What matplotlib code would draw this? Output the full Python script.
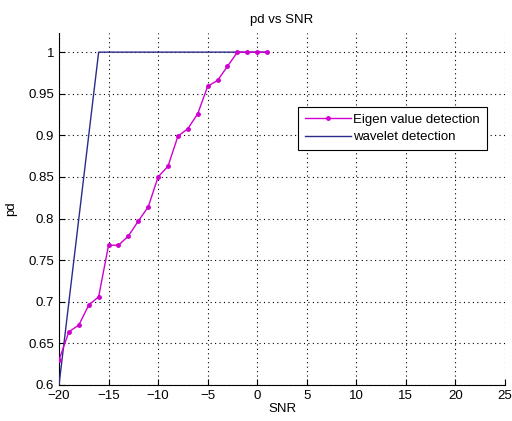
import matplotlib
matplotlib.use("Agg")
import matplotlib.pyplot as plt
import numpy as np

# SNR values (dB) shared by both curves
snr = list(range(-20, 2))

# probability of detection
pd_eigen = [0.630, 0.664, 0.672, 0.696, 0.706, 0.768, 0.768, 0.779, 0.797, 0.814,
            0.850, 0.863, 0.899, 0.908, 0.926, 0.959, 0.966, 0.983, 1.0, 1.0, 1.0, 1.0]
pd_wavelet = [0.6, 0.7, 0.8, 0.9, 1.0, 1.0, 1.0, 1.0, 1.0, 1.0, 1.0,
              1.0, 1.0, 1.0, 1.0, 1.0, 1.0, 1.0, 1.0, 1.0, 1.0, 1.0]

xticks = [-20, -15, -10, -5, 0, 5, 10, 15, 20, 25]
yticks = [0.6, 0.65, 0.7, 0.75, 0.8, 0.85, 0.9, 0.95, 1.0]
ytick_labels = ["0.6", "0.65", "0.7", "0.75", "0.8", "0.85", "0.9", "0.95", "1"]

plt.rcParams['font.family'] = ['Liberation Sans', 'DejaVu Sans']

fig = plt.figure(figsize=(5.12, 4.21), dpi=100)
left, right, top, bottom = 59, 505, 33, 385
ax = fig.add_axes([left/512, 1 - bottom/421, (right - left)/512, (bottom - top)/421])

ax.plot(snr, pd_wavelet, color="#2b2b8c", lw=1.0, label="wavelet detection", zorder=3)
ax.plot(snr, pd_eigen, color="#d000d0", lw=1.0, marker=".", ms=5,
        label="Eigen value detection", zorder=4)

ax.set_xlim(-20, 25)
ax.set_ylim(0.6, 1.023)
ax.set_xticks(xticks)
ax.set_yticks(yticks)
ax.set_yticklabels(ytick_labels)
ax.tick_params(direction="in", labelsize=9.5, length=4, colors="black")
ax.grid(True, linestyle=(0, (1, 3)), color="black", lw=0.8)
ax.spines["top"].set_visible(False)
ax.spines["right"].set_visible(False)

ax.set_xlabel("SNR", fontsize=9.5, labelpad=1)
ax.set_ylabel("pd", fontsize=9.5, labelpad=8)
fig.text(0.5 * (left + right) / 512, 1 - 20/421, "pd vs SNR", ha="center", va="center", fontsize=9.5)

handles, labels = ax.get_legend_handles_labels()
leg = ax.legend(handles[::-1], labels[::-1], loc="upper left",
                bbox_to_anchor=((298 - left) / (right - left), (bottom - 107) / (bottom - top)),
                borderaxespad=0, fontsize=9.5, fancybox=False, framealpha=1, edgecolor="black",
                borderpad=0.5, handlelength=3.5, labelspacing=0.4, handletextpad=0.2)
leg.get_frame().set_linewidth(0.8)

fig.savefig("out.png", dpi=100)
